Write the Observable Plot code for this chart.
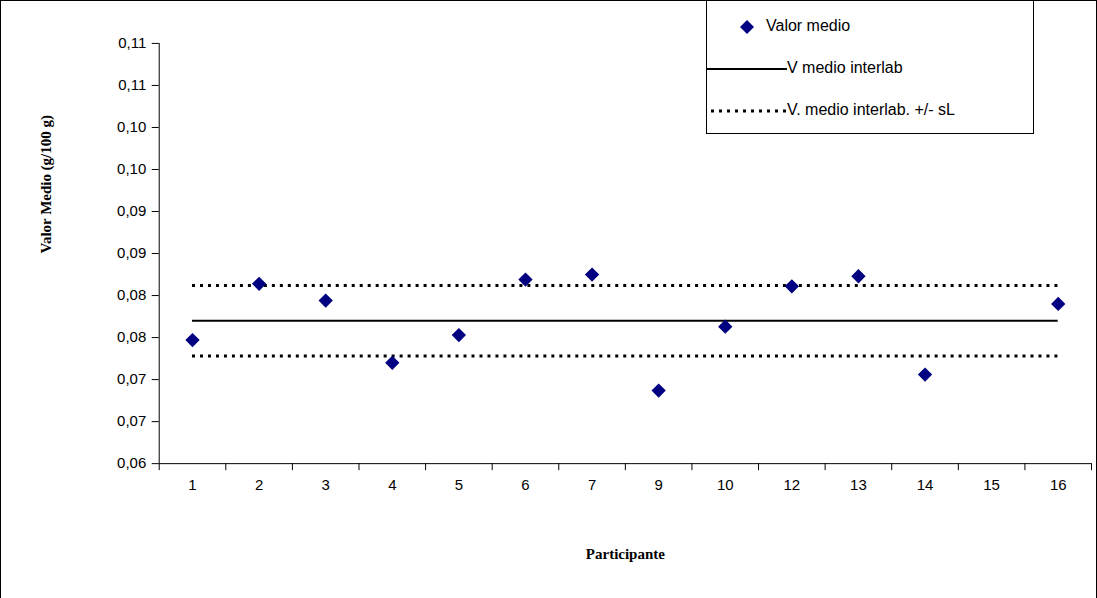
<!DOCTYPE html>
<html><head><meta charset="utf-8">
<script src="https://cdn.jsdelivr.net/npm/d3@7"></script>
<script src="https://cdn.jsdelivr.net/npm/@observablehq/plot@0.6"></script>
<style>
body{margin:0;font-family:"Liberation Sans",Arial,sans-serif}
#wrap{position:relative;width:1097px;height:598px}
#chart svg{border:1px solid #000;box-sizing:border-box}
#legend{position:absolute;left:706px;top:0;width:328px;height:134px;border:1px solid #000;background:#fff;box-sizing:border-box;font-size:16px}
#legend div{position:absolute;left:0;white-space:nowrap;height:20px}
#legend span{position:absolute;top:0}
</style></head><body>
<div id="wrap"><div id="chart"></div>
<div id="legend">
<div style="top:16px"><svg width="80" height="20"><path d="M40,3 L47,10 L40,17 L33,10Z" fill="#000080"/></svg><span style="left:59px">Valor medio</span></div>
<div style="top:58px"><svg width="80" height="20"><line x1="0" x2="80" y1="10" y2="10" stroke="#000" stroke-width="2"/></svg><span style="left:80px">V medio interlab</span></div>
<div style="top:100px"><svg width="80" height="20"><line x1="4" x2="80" y1="10" y2="10" stroke="#000" stroke-width="3" stroke-dasharray="3,5"/></svg><span style="left:80px">V. medio interlab. +/- sL</span></div>
</div></div>
<script>
const participantes = ["1","2","3","4","5","6","7","9","10","12","13","14","15","16"];
const valores = [0.0747,0.0814,0.0794,0.0720,0.0753,0.0819,0.0825,0.0687,0.0763,0.0811,0.0823,0.0706,null,0.0790];
const medio = 0.0770;
const sL = 0.0042;
const yTicks = [0.060,0.065,0.070,0.075,0.080,0.085,0.090,0.095,0.100,0.105,0.110];

const n = participantes.length;
const puntos = participantes.map((p,i)=>({i:i+0.5,v:valores[i]})).filter(d=>d.v!=null);
const fmt = v => (Math.round(v*100+1e-9)/100).toFixed(2).replace(".",",");
const lineas = [{y:medio,d:false},{y:medio+sL,d:true},{y:medio-sL,d:true}].map(o=>({...o,x1:0.5,x2:n-0.5}));

const chart = Plot.plot({
  width:1097, height:598,
  marginLeft:158, marginRight:5, marginTop:42, marginBottom:135,
  style:{fontFamily:"Liberation Sans, Arial, sans-serif", fontSize:"15px", color:"#000", background:"#fff"},
  x:{type:"linear", domain:[0,n], axis:null},
  y:{type:"linear", domain:[0.06,0.11], axis:null},
  marks:[
    Plot.ruleY([0.06]),
    Plot.axisY({ticks:yTicks, tickFormat:fmt, tickSize:7, tickPadding:6, label:null, fontSize:15}),
    Plot.axisX({ticks:d3.range(n+1), tickFormat:()=>"", tickSize:7, label:null}),
    Plot.ruleX([0]),
    Plot.text(participantes.map((p,i)=>({p,i:i+0.5})),{x:"i", y:()=>0.06, dy:22, text:"p", fontSize:15}),
    Plot.ruleY(lineas.filter(d=>!d.d),{y:"y", x1:"x1", x2:"x2", stroke:"#000", strokeWidth:2}),
    Plot.ruleY(lineas.filter(d=>d.d),{y:"y", x1:"x1", x2:"x2", stroke:"#000", strokeWidth:3, strokeDasharray:"3,5"}),
    Plot.dot(puntos,{x:"i", y:"v", symbol:"diamond2", r:5.5, fill:"#000080", stroke:"#000080"}),
    Plot.text(["Participante"],{frameAnchor:"bottom", dy:96, fontWeight:"bold", fontFamily:"Liberation Serif, serif", fontSize:15}),
    Plot.text(["Valor Medio (g/100 g)"],{frameAnchor:"left", dx:-113, rotate:-90, fontWeight:"bold", fontFamily:"Liberation Serif, serif", fontSize:15})
  ]
});
document.getElementById("chart").append(chart);
</script></body></html>
